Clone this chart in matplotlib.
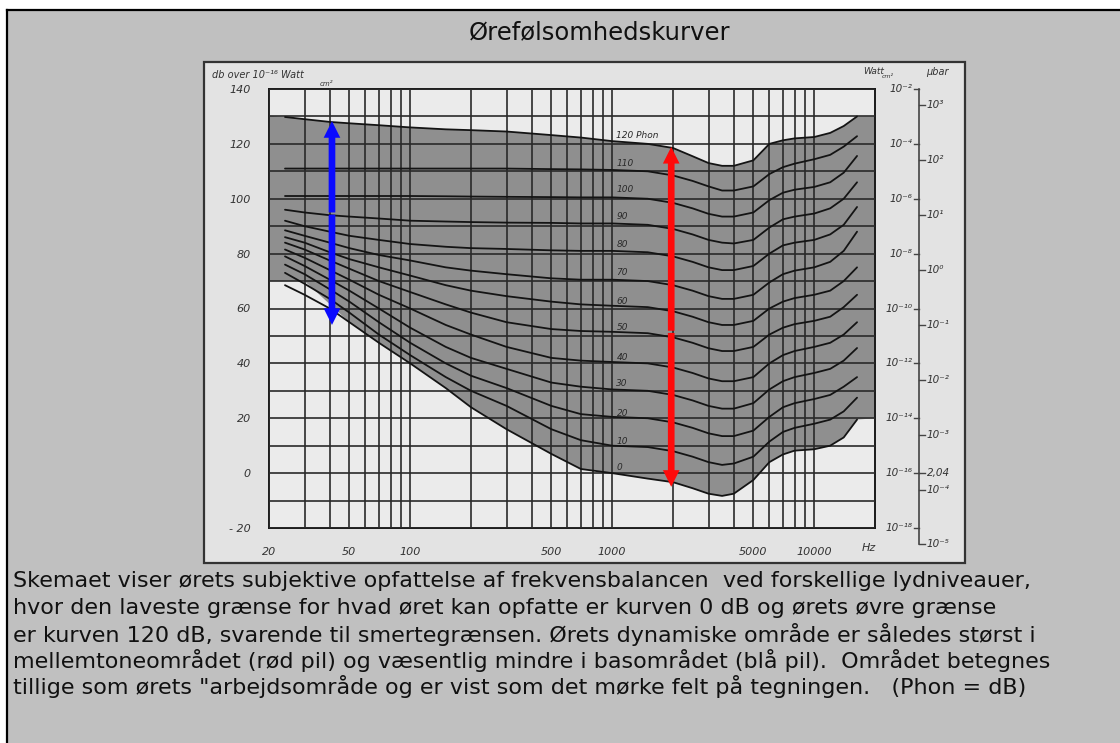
"""Ørefølsomhedskurver - equal loudness contours on a scanned-style chart."""

import numpy as np
import matplotlib
matplotlib.use("Agg")
import matplotlib.pyplot as plt
from matplotlib.patches import Rectangle, FancyArrowPatch
from matplotlib.lines import Line2D
from matplotlib.transforms import blended_transform_factory

W, H = 1120, 743

FREQ = [24, 30, 40, 50, 70, 100, 150, 200, 300, 500, 700, 1000, 1500, 2000,
        2500, 3000, 3500, 4000, 5000, 6000, 7000, 8000, 10000, 12000, 14000, 16300]

# sound level (dB) of each phon curve at FREQ
p120 = [129.8, 129, 128, 127.5, 126.8, 126, 125.3, 125, 124.5, 123.2, 122.3, 121,
        120, 118.5, 115.5, 113, 112, 112, 114, 120, 121.3, 122, 122.5, 124, 126.5, 130]
p110 = [111, 111, 111, 111, 111, 111, 111, 111, 111, 110.8, 110.7, 110.5,
        110, 108.5, 106.5, 104.5, 103, 103, 104.5, 109, 111.5, 112.8, 114.4, 116, 119, 122.8]
p100 = [101, 101, 101, 101, 101, 101, 100.9, 100.8, 100.7, 100.6, 100.5, 100.5,
        100, 98.5, 96.5, 94.5, 93.5, 93.5, 95, 99.5, 102.2, 103.3, 104.3, 106, 109.5, 115.6]
p90 = [96, 95, 94, 93.5, 92.8, 92, 91.7, 91.5, 91.3, 91.2, 91, 91,
       90.5, 89, 87, 85, 84, 83.7, 85, 89.5, 92.5, 93.5, 94.6, 96.5, 100, 106]
p80 = [92, 90, 88, 86.5, 85, 83.5, 82.5, 82, 81.7, 81.2, 81, 81,
       80.5, 79, 77, 75, 74, 74, 75.5, 80, 83, 84, 85, 87, 90.5, 97]
p70 = [88.5, 86.5, 84, 82, 79.5, 77.5, 75, 73.8, 72.5, 71, 70.5, 70.5,
       70, 68.5, 66.5, 64.5, 63.5, 63.5, 65, 69.5, 72.5, 73.8, 75, 77, 81, 88]
p60 = [86, 84, 80.5, 78, 75, 72, 68.5, 66.5, 64.5, 62.5, 61.5, 61,
       60.5, 59, 57, 55, 54, 54, 55.5, 60, 62.5, 63.8, 65, 66.5, 70, 75]
p50 = [84, 81.5, 77.5, 74.5, 70, 66, 61.5, 58.5, 55, 52.5, 51.8, 51.5,
       51, 49.5, 47.5, 45.5, 44.5, 44.5, 46, 50.5, 53, 54.3, 55.5, 57, 60.5, 65]
p40 = [81.5, 78.5, 74, 70.5, 65, 60, 54, 50.5, 46, 42, 41, 40.5,
       40, 38.5, 36.5, 34.5, 33.5, 33.5, 35, 40, 43, 44.5, 46, 47.5, 50.5, 55]
p30 = [79, 75.5, 70.5, 66.5, 60, 53, 46, 42, 38, 33, 31.5, 30.5,
       30, 28.5, 26.5, 24.5, 23.5, 23.5, 25.5, 30.5, 33.5, 35, 36.5, 38, 41, 45.6]
p20 = [76, 72.5, 67, 62.5, 55, 47.5, 40, 35.5, 31, 24.5, 21.5, 20.5,
       20, 18.5, 16.5, 14.5, 13.5, 13.5, 15.5, 20.5, 24, 25.5, 27, 28.5, 31.5, 35]
p10 = [73, 69, 63.5, 58.5, 50.5, 43, 35, 30, 24.5, 16, 12, 10,
       9.5, 8, 6, 4, 3, 3.5, 6, 11.5, 15, 16.5, 18, 19.5, 22.5, 27.5]
p0 = [68.5, 65, 60, 55, 47.5, 40, 31, 24, 16, 7, 1.5, 0,
      -2, -3.3, -5.5, -7.5, -8.3, -7.5, -2.5, 4, 6.8, 8.2, 8.7, 10, 13, 19.5]

curves = [p0, p10, p20, p30, p40, p50, p60, p70, p80, p90, p100, p110, p120]
phon_labels = ["0", "10", "20", "30", "40", "50", "60", "70", "80", "90", "100", "110", "120 Phon"]
phon_label_db = [1.9, 11.7, 21.9, 32.8, 42.3, 52.9, 62.4, 73, 83.2, 93.4, 103.2, 113, 123.2]

# corners of the dark working area that lie outside the curves
fill_top_left, fill_top_right = 130.3, 130
fill_low_left, fill_low_right = 70, 20

x_ticks = [20, 50, 100, 500, 1000, 5000, 10000]
x_ticklabels = ["20", "50", "100", "500", "1000", "5000", "10000"]
y_ticks = [-20, 0, 20, 40, 60, 80, 100, 120, 140]
y_ticklabels = ["- 20", "0", "20", "40", "60", "80", "100", "120", "140"]

# right hand scales
watt_db = [140, 120, 100, 80, 60, 40, 20, 0, -20]
watt_labels = ["10⁻²", "10⁻⁴", "10⁻⁶", "10⁻⁸", "10⁻¹⁰", "10⁻¹²", "10⁻¹⁴", "10⁻¹⁶", "10⁻¹⁸"]
bar_db = [134, 114, 94, 74, 54, 34, 14, 0, -6, -26]
bar_labels = ["10³", "10²", "10¹", "10⁰", "10⁻¹", "10⁻²", "10⁻³", "2,04", "10⁻⁴", "10⁻⁵"]

# arrows: (freq, low end, split, high end)
blue_arrow = (41, 54, 94.6, 128.3)
red_arrow = (1960, -5, 51.5, 118.9)

title = "Ørefølsomhedskurver"
caption = [
    "Skemaet viser ørets subjektive opfattelse af frekvensbalancen  ved forskellige lydniveauer,",
    "hvor den laveste grænse for hvad øret kan opfatte er kurven 0 dB og ørets øvre grænse",
    "er kurven 120 dB, svarende til smertegrænsen. Ørets dynamiske område er således størst i",
    "mellemtoneområdet (rød pil) og væsentlig mindre i basområdet (blå pil).  Området betegnes",
    "tillige som ørets \"arbejdsområde og er vist som det mørke felt på tegningen.   (Phon = dB)",
]


def fx(x):
    return x / W


def fy(y):
    return 1 - y / H


fig = plt.figure(figsize=(W / 100, H / 100), dpi=100, facecolor="#c0c0c0")

# white margin and the black frame of the page
fig.patches.append(Rectangle((0, fy(10)), 1, 10 / H, transform=fig.transFigure,
                             facecolor="white", edgecolor="none", zorder=-2))
fig.patches.append(Rectangle((0, 0), fx(7), 1, transform=fig.transFigure,
                             facecolor="white", edgecolor="none", zorder=-2))
fig.lines.append(Line2D([fx(7), 1], [fy(10), fy(10)], transform=fig.transFigure,
                        color="black", lw=1.6, zorder=-1))
fig.lines.append(Line2D([fx(7), fx(7)], [0, fy(10)], transform=fig.transFigure,
                        color="black", lw=1.6, zorder=-1))

# light panel holding the scanned chart
fig.patches.append(Rectangle((fx(204), fy(563)), fx(965 - 204), (563 - 62) / H,
                             transform=fig.transFigure, facecolor="#e3e3e3",
                             edgecolor="#333333", lw=1.6, zorder=-1))

fig.text(fx(600), fy(32), title, ha="center", va="center", fontsize=17.5,
         color="#111111", family="DejaVu Sans")

for i, line in enumerate(caption):
    fig.text(fx(13), fy(581 + 26.5 * i), line, ha="left", va="center",
             fontsize=16, color="#111111", family="DejaVu Sans")

ax = fig.add_axes([fx(269), fy(528), fx(875 - 269), (528 - 89) / H])
ax.set_facecolor("#ebebeb")
ax.set_xscale("log")
ax.set_xlim(20, 20000)
ax.set_ylim(-20, 140)

# dark working area between threshold and pain limit
top_f = [20] + FREQ + [20000]
top_db = [fill_top_left] + p120 + [fill_top_right]
low_f = [20, 30] + FREQ[3:] + [20000]
low_db = [fill_low_left, fill_low_left] + p0[3:] + [fill_low_right]
ax.fill(top_f + low_f[::-1], top_db + low_db[::-1], color="#8f8f8f", lw=0, zorder=1)

for db in curves:
    ax.plot(FREQ, db, color="#141414", lw=1.3, zorder=3, solid_capstyle="round",
            solid_joinstyle="round")

for lab, y in zip(phon_labels, phon_label_db):
    ax.text(1050, y, lab, fontsize=6.5, color="#2a2a2a", style="italic",
            ha="left", va="center", zorder=4)

# grid of the printed chart
minor_x = [f for f in list(range(30, 100, 10)) + list(range(200, 1000, 100))
           + list(range(2000, 10000, 1000)) if f not in x_ticks]
ax.set_xticks(x_ticks)
ax.set_xticklabels(x_ticklabels)
ax.set_xticks(minor_x, minor=True)
ax.set_xticklabels([], minor=True)
ax.set_yticks(y_ticks)
ax.set_yticklabels(y_ticklabels)
ax.set_yticks(range(-10, 140, 20), minor=True)
ax.grid(which="both", color="#2a2a2a", lw=1.2, zorder=2)
ax.set_axisbelow(False)
ax.tick_params(which="both", length=0)
ax.tick_params(axis="x", pad=14, labelsize=8, labelcolor="#333333")
ax.tick_params(axis="y", pad=13, labelsize=8, labelcolor="#333333")
for t in ax.get_xticklabels() + ax.get_yticklabels():
    t.set_style("italic")
for s in ax.spines.values():
    s.set_color("#1a1a1a")
    s.set_linewidth(1.4)

for (f, lo, mid, hi), col in [(blue_arrow, "#0a0aff"), (red_arrow, "#ff0a0a")]:
    for end in (lo, hi):
        start = mid - 0.4 if end < mid else mid + 0.4
        ax.add_patch(FancyArrowPatch((f, start), (f, end),
                                     arrowstyle="simple,head_length=0.5,head_width=0.5,tail_width=0.2",
                                     mutation_scale=24, color=col, lw=0,
                                     shrinkA=0, shrinkB=0, zorder=6))

# right hand scales: Watt/cm2 and microbar
tr = blended_transform_factory(fig.transFigure, ax.transData)
ax.add_line(Line2D([fx(919), fx(919)], [140, bar_db[-1]], transform=tr, color="#444444",
                   lw=1.2, clip_on=False))
for db, lab in zip(watt_db, watt_labels):
    ax.add_line(Line2D([fx(914), fx(919)], [db, db], transform=tr, color="#444444",
                       lw=1.0, clip_on=False))
    ax.text(fx(912), db, lab, transform=tr, ha="right", va="center", fontsize=7.5,
            style="italic", color="#333333")
for db, lab in zip(bar_db, bar_labels):
    ax.add_line(Line2D([fx(919), fx(925)], [db, db], transform=tr, color="#444444",
                       lw=1.0, clip_on=False))
    ax.text(fx(927), db, lab, transform=tr, ha="left", va="center", fontsize=7.5,
            style="italic", color="#333333")

# scale headings
fig.text(fx(212), fy(75), "db over 10⁻¹⁶ Watt", fontsize=7, style="italic",
         color="#333333", ha="left", va="center")
fig.text(fx(320), fy(84), "cm²", fontsize=5, style="italic", color="#333333",
         ha="left", va="center")
fig.text(fx(863), fy(72), "Watt", fontsize=6.5, style="italic", color="#333333",
         ha="left", va="center")
fig.text(fx(882), fy(76), "cm²", fontsize=4.5, style="italic", color="#333333",
         ha="left", va="center")
fig.text(fx(926), fy(72), "μbar", fontsize=7, style="italic", color="#333333",
         ha="left", va="center")
fig.text(fx(862), fy(548), "Hz", fontsize=8, style="italic", color="#333333",
         ha="left", va="center")

fig.savefig("out.png", dpi=100, facecolor=fig.get_facecolor())
